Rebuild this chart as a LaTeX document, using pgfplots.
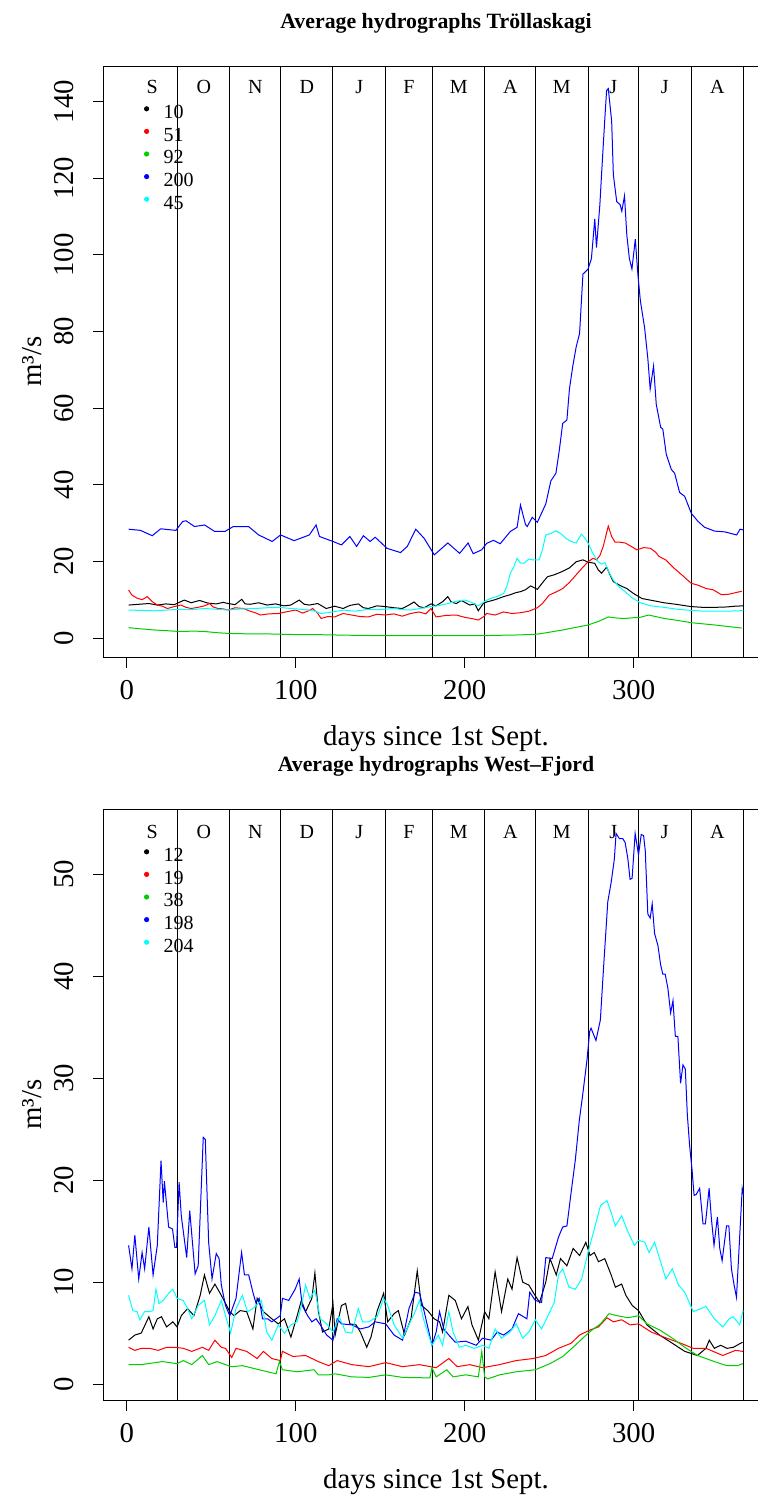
\documentclass[border=0pt]{standalone}
\usepackage{fontspec}
\setmainfont{Liberation Serif}
\usepackage{pgfplots}
\pgfplotsset{compat=1.18}
\definecolor{rgreen}{RGB}{0,205,0}
\definecolor{rcyan}{RGB}{0,255,255}
\definecolor{rblue}{RGB}{0,0,255}
\definecolor{rred}{RGB}{255,0,0}
\newcommand{\tickfont}{\fontsize{14.4}{16}\selectfont}
\newcommand{\smallfont}{\fontsize{10}{11.4}\selectfont}
\pgfplotsset{
  hydro/.style={
    scale only axis, width=332pt, height=295.5pt,
    anchor=north west,
    xmin=-13.56, xmax=379.56,
    xtick={0,100,200,300},
    xtick pos=left, ytick pos=left,
    tick align=outside, major tick length=5.5pt,
    tick style={black, line width=0.5pt},
    axis line style={black, line width=0.5pt},
    /pgf/number format/assume math mode=true,
    ticklabel style={font=\tickfont, inner sep=0pt},
    xticklabel style={anchor=north},
    xticklabel shift=6pt,
    yticklabel style={rotate=90, anchor=south},
    yticklabel shift=9.5pt,
    extra x ticks={30,61,91,122,153,181,212,242,273,303,334,365},
    extra x tick labels={},
    extra x tick style={grid=major, major grid style={black, line width=0.5pt}, major tick length=0pt},
    xlabel={days since 1st Sept.},
    ylabel={m³/s},
    every axis x label/.style={at={(axis description cs:0.5,0)}, anchor=base, yshift=-44pt, font=\tickfont},
    every axis y label/.style={at={(axis description cs:0,0.5)}, xshift=-31pt, rotate=90, anchor=base, font=\tickfont},
    every axis title/.style={at={(axis description cs:0.5,1)}, anchor=base, yshift=19pt, font=\bfseries\fontsize{10.9}{12}\selectfont},
    legend style={at={(axis description cs:0,1)}, anchor=north west, xshift=19.3pt, yshift=-18.4pt,
      draw=none, fill=none, inner sep=0pt, outer sep=0pt, column sep=6.5pt, row sep=0pt,
      font=\smallfont, cells={anchor=west},
      nodes={inner sep=0pt, text height=6.4pt, text depth=3.4pt}},
    legend image code/.code={\path[draw=none,fill=none] (-2pt,-3.4pt) rectangle (2pt,6.4pt); \fill[draw=none] (0pt,3.4pt) circle (1.3pt);},
    every axis plot/.append style={line width=0.5pt, no markers},
  }
}
\newcommand{\months}[1]{%
  \node[font=\smallfont, anchor=base, inner sep=0pt] at (axis cs:15,#1) {S};
  \node[font=\smallfont, anchor=base, inner sep=0pt] at (axis cs:45.5,#1) {O};
  \node[font=\smallfont, anchor=base, inner sep=0pt] at (axis cs:76,#1) {N};
  \node[font=\smallfont, anchor=base, inner sep=0pt] at (axis cs:106.5,#1) {D};
  \node[font=\smallfont, anchor=base, inner sep=0pt] at (axis cs:137.5,#1) {J};
  \node[font=\smallfont, anchor=base, inner sep=0pt] at (axis cs:167,#1) {F};
  \node[font=\smallfont, anchor=base, inner sep=0pt] at (axis cs:196.5,#1) {M};
  \node[font=\smallfont, anchor=base, inner sep=0pt] at (axis cs:227,#1) {A};
  \node[font=\smallfont, anchor=base, inner sep=0pt] at (axis cs:257.5,#1) {M};
  \node[font=\smallfont, anchor=base, inner sep=0pt] at (axis cs:288,#1) {J};
  \node[font=\smallfont, anchor=base, inner sep=0pt] at (axis cs:318.5,#1) {J};
  \node[font=\smallfont, anchor=base, inner sep=0pt] at (axis cs:349.5,#1) {A};
}
\begin{document}
\begin{tikzpicture}
\useasboundingbox (0pt,0pt) rectangle (379pt,-749.5pt);
% ---------------- Top panel ----------------
\begin{axis}[hydro, at={(52pt,-33pt)},
  ymin=-4.96, ymax=149.3, ytick={0,20,...,140},
  title={Average hydrographs Tröllaskagi},
  legend entries={10,51,92,200,45}]
\addplot[black] coordinates {(1,8.6)(7,8.8)(13,9.0)(18,8.6)(23,8.9)(28,8.7)(34,9.9)(38,9.2)(43,9.8)(48,9.1)(53,8.9)(57,9.3)(60,9.0)(64,8.7)(68,10.1)(70,8.9)(73,8.8)(78,9.2)(83,8.6)(88,8.9)(93,8.4)(97,8.6)(102,9.9)(105,8.8)(108,8.6)(113,9.0)(118,7.7)(123,8.3)(128,7.7)(132,8.5)(137,8.9)(140,7.9)(143,7.7)(148,8.4)(153,8.2)(158,7.9)(163,7.7)(167,8.6)(170,9.4)(173,8.2)(176,7.9)(180,8.9)(183,8.4)(187,9.5)(190,10.8)(192,9.4)(195,9.0)(198,9.8)(203,8.6)(206,8.9)(208,7.1)(211,9.0)(213,9.4)(218,10.0)(223,10.8)(227,11.3)(230,11.8)(233,12.1)(236,12.6)(239,13.6)(243,12.7)(246,14.4)(249,16.0)(253,16.5)(258,17.4)(262,18.3)(266,19.9)(270,20.4)(273,19.8)(277,19.5)(279,17.8)(281,16.9)(284,18.5)(286,16.5)(288,14.7)(292,13.7)(296,12.9)(300,11.6)(305,10.3)(311,9.8)(318,9.2)(325,8.8)(334,8.2)(341,8.0)(348,8.0)(355,8.1)(360,8.3)(365,8.4)};
\addplot[rred] coordinates {(1,12.5)(3,11.2)(6,10.4)(9,10.0)(12,10.8)(15,9.5)(18,8.6)(21,8.3)(24,7.7)(28,8.2)(32,8.6)(35,8.0)(38,7.7)(42,8.0)(46,8.4)(49,9.0)(51,8.1)(54,7.7)(57,7.6)(60,7.3)(64,7.9)(69,7.7)(73,7.0)(76,6.6)(79,6.0)(84,6.3)(90,6.4)(95,6.9)(100,7.3)(104,6.5)(107,7.0)(110,7.7)(113,6.4)(115,5.1)(119,5.6)(123,5.5)(128,6.4)(133,6.0)(138,5.6)(143,5.5)(148,6.2)(153,6.0)(158,6.3)(163,5.7)(168,6.4)(173,6.8)(177,6.3)(180,7.7)(183,5.5)(189,5.9)(195,6.0)(200,5.4)(205,5.0)(208,4.7)(211,5.5)(213,6.4)(218,6.0)(223,6.8)(228,6.4)(233,6.6)(238,7.0)(243,7.9)(246,9.0)(250,11.2)(254,12.0)(258,12.9)(262,14.5)(265,16.0)(269,18.0)(273,19.9)(276,20.8)(278,20.4)(280,21.5)(282,23.9)(285,29.2)(287,26.5)(289,25.0)(292,25.0)(295,24.8)(299,23.8)(302,23.0)(306,23.6)(310,23.4)(313,22.4)(315,21.3)(319,20.4)(324,18.2)(329,16.3)(334,14.3)(338,13.8)(343,12.9)(347,12.6)(352,11.3)(356,11.4)(360,11.8)(364,12.2)};
\addplot[rgreen] coordinates {(1,2.7)(8,2.4)(16,2.1)(24,1.9)(31,1.7)(40,1.8)(46,1.7)(53,1.4)(60,1.2)(70,1.1)(80,1.1)(90,1.0)(100,0.9)(110,0.9)(122,0.8)(135,0.7)(153,0.6)(168,0.6)(183,0.6)(195,0.6)(208,0.6)(220,0.7)(232,0.8)(243,1.0)(250,1.5)(258,2.1)(266,2.8)(273,3.4)(279,4.3)(285,5.5)(290,5.2)(295,5.1)(300,5.3)(303,5.3)(309,6.0)(313,5.6)(318,5.1)(326,4.6)(334,4.0)(341,3.7)(348,3.4)(356,3.0)(364,2.6)};
\addplot[rblue] coordinates {(1,28.4)(8,28.1)(15,26.7)(20,28.5)(29,28.1)(33,30.4)(35,30.6)(40,29.1)(46,29.5)(52,27.8)(58,27.8)(63,29.1)(72,29.1)(78,26.9)(86,25.2)(91,26.9)(99,25.4)(108,26.9)(112,29.5)(114,26.5)(122,25.2)(127,24.3)(132,26.5)(136,23.9)(140,26.7)(144,25.2)(147,26.3)(154,23.4)(162,22.3)(166,23.9)(171,28.4)(176,26.0)(182,21.7)(190,24.8)(197,22.1)(202,24.8)(205,22.0)(210,23.0)(213,24.7)(217,25.5)(221,24.6)(227,27.8)(231,28.9)(233,34.7)(236,29.6)(237,29.1)(240,31.5)(243,30.2)(248,35.0)(251,41.0)(254,43.0)(256,49.0)(258,56.0)(260.5,56.9)(262,65.0)(264,71.0)(266,76.0)(268,79.5)(270,95.0)(271,95.4)(273,96.3)(275,99.0)(277,109.4)(278,101.9)(280,113)(281,120.9)(283,135.9)(284,142.9)(285,143.4)(287,134.9)(288,120.9)(290,113.9)(292,113.1)(293,111.4)(294.6,115.4)(296,105)(297.5,99.0)(299,96.3)(301,104.1)(302.5,95.0)(304,88.0)(306.5,81.0)(308.4,73.0)(309.8,65.0)(311.8,71.0)(313.4,61.0)(316,55.0)(317.3,54.5)(319.3,48.0)(322.3,44.0)(324.3,43.0)(327.2,38.0)(330.2,37.0)(334.2,32.5)(338,30.5)(342,28.9)(348,27.9)(354,27.7)(361,26.9)(363,28.4)(365,28.2)};
\addplot[rcyan] coordinates {(1,7.3)(8,7.2)(16,7.1)(24,7.3)(31,7.5)(38,7.4)(46,7.7)(53,7.5)(60,7.3)(68,7.6)(76,7.7)(83,7.9)(90,8.0)(97,7.7)(103,7.5)(110,7.2)(115,6.4)(122,6.8)(128,7.3)(135,7.0)(143,7.5)(150,7.4)(158,7.7)(163,7.4)(168,7.3)(175,7.8)(180,8.2)(185,8.5)(190,9.0)(195,9.6)(200,9.9)(204,9.3)(208,8.4)(212,9.6)(215,10.3)(219,10.8)(223,11.6)(225,13.5)(227,16.9)(229,18.5)(231,20.8)(233,19.6)(235,19.5)(238,20.6)(240,20.4)(244,20.4)(246,23.0)(248,26.9)(251,27.3)(254,28.0)(257,27.2)(260,26.0)(263,25.2)(266,24.8)(269,27.1)(271,26.2)(273,24.8)(276,22.0)(279,19.9)(281,19.3)(283,19.7)(285,17.5)(288,15.1)(291,13.5)(295,12.1)(299,10.5)(304,9.2)(310,8.4)(318,8.0)(326,7.5)(334,7.2)(342,7.0)(348,7.0)(356,7.0)(362,7.1)(365,7.2)};
\months{142.0}
\end{axis}
% ---------------- Bottom panel ----------------
\begin{axis}[hydro, at={(52pt,-404.5pt)},
  ymin=-1.57, ymax=56.4, ytick={0,10,...,50},
  title={Average hydrographs West--Fjord},
  legend entries={12,19,38,198,204}]
\addplot[black] coordinates {(1,4.3)(4.7,4.8)(8.5,5.0)(13,6.6)(15.5,5.4)(18,6.4)(20.5,6.6)(23.5,5.6)(27.2,6.1)(29.7,5.6)(32.2,6.7)(35.9,7.4)(39.7,6.7)(43.4,8.7)(45.9,10.7)(48.9,8.9)(52.1,9.8)(55.9,8.7)(58.4,7.9)(60.9,7.1)(63.4,6.7)(67.1,7.2)(70.9,7.1)(74.6,5.4)(77.1,8.4)(80.8,7.1)(85.8,6.4)(89.6,5.9)(93.3,6.4)(97.1,4.6)(100.8,6.7)(103.3,8.2)(105.8,7.1)(109.5,8.4)(111.3,10.9)(113.3,7.2)(115.8,5.1)(119.5,5.4)(122,7.9)(123.3,4.8)(127,7.7)(129.5,7.9)(132,5.9)(135.7,5.8)(138.2,5.1)(142,3.6)(144.5,4.6)(148.2,7.2)(152,8.9)(154.4,6.1)(158.2,6.9)(160.7,7.2)(164.4,4.8)(168.2,6.4)(171.9,11.1)(174.4,7.7)(178.1,7.2)(181.9,6.4)(185.1,6.1)(186.9,5.1)(190.6,8.7)(194.4,8.2)(198.1,6.4)(201.9,7.6)(204.3,5.8)(208.1,4.3)(211.8,7.1)(214.3,6.4)(218,11.0)(221.8,7.1)(225.5,10.3)(228,9.3)(231,12.4)(234.3,10.0)(238,9.7)(240.5,9.0)(244.3,8.0)(248,10.0)(250.5,12.3)(254.2,10.7)(256.7,12.3)(260.5,11.6)(264.2,13.3)(268,12.6)(271.7,13.9)(274.2,12.6)(276.7,12.9)(279.2,12.0)(282.9,12.3)(286.7,10.7)(289.2,9.5)(292.9,9.8)(295.4,8.7)(299.2,7.7)(302.9,7.2)(307.9,5.8)(315.4,4.8)(322.9,4.0)(330.3,3.2)(337.8,2.8)(342.8,3.5)(344.8,4.3)(347.8,3.5)(351.5,3.8)(355.3,3.5)(359,3.6)(364.5,4.1)};
\addplot[rred] coordinates {(1,3.6)(4.7,3.3)(8.5,3.5)(13.5,3.5)(18.5,3.3)(23.5,3.6)(28.4,3.6)(33.4,3.5)(38.4,3.2)(44.7,3.6)(48.4,3.3)(52.1,4.3)(55.9,3.6)(58.4,3.5)(62.1,2.6)(64.6,3.5)(70.9,3.2)(77.1,2.5)(80.8,3.2)(85.8,2.5)(90.8,2.3)(92.1,3.2)(98.3,2.7)(105.8,2.8)(113.3,2.2)(119.5,1.8)(124.5,2.3)(133.2,1.9)(143.2,1.7)(153.2,2.1)(163.2,1.7)(173.2,1.9)(183.1,1.6)(190.6,2.5)(195.6,1.7)(203,1.9)(210.6,1.6)(220.6,1.9)(230.5,2.3)(240.5,2.5)(248,2.8)(255.5,3.5)(263,4.0)(268,4.8)(274.2,5.3)(279.2,5.6)(284.2,6.5)(288,6.1)(292.9,6.3)(297.9,5.8)(302.9,5.9)(310.4,5.1)(317.9,4.6)(327.9,4.0)(335.3,3.5)(342.8,3.5)(352.8,2.8)(360.3,3.3)(364.8,3.2)};
\addplot[rgreen] coordinates {(1,1.9)(8.5,1.9)(21,2.2)(29.7,2.0)(33.4,2.3)(38.4,1.9)(44.7,2.8)(48.4,1.9)(53.4,2.2)(58.4,1.9)(62.1,1.7)(68.4,1.8)(75.8,1.5)(83.3,1.2)(88.3,1.0)(90.3,2.2)(92.1,1.4)(100.8,1.2)(110.8,1.4)(113.3,0.9)(119.5,0.9)(123.3,1.0)(133.2,0.7)(143.2,0.65)(153.2,0.9)(163.2,0.65)(179.4,0.6)(180.6,1.6)(183.1,0.7)(189.4,1.4)(193.1,0.7)(200.6,0.9)(208.1,0.7)(210.1,3.2)(211.8,0.7)(213.6,0.5)(220.6,0.9)(230.5,1.2)(241.8,1.4)(250.5,2.0)(258,2.7)(265.5,3.8)(270.5,4.6)(275.4,5.3)(280.4,5.9)(285.4,6.9)(290.4,6.7)(296.7,6.5)(302.9,6.7)(307.9,5.9)(315.4,5.3)(322.9,4.5)(330.3,3.6)(337.8,2.8)(347.8,2.2)(355.3,1.8)(361.5,1.8)(364.8,2.0)};
\addplot[rblue] coordinates {(1,13.6)(3,11.3)(4.7,14.6)(7,10.3)(9,12.9)(10.5,11.3)(13,15.4)(15.5,10.7)(18,13.6)(20.2,21.9)(21.5,17.8)(22.2,19.9)(24.7,15.4)(27,15.2)(28.4,13.4)(29.4,13.4)(30.9,19.8)(32.2,16.5)(35.4,12.4)(37.2,17.0)(40.4,10.8)(42.2,11.6)(45.2,24.2)(46.4,24.0)(48.4,13.9)(50.4,10.3)(52.9,12.8)(54.6,12.3)(55.9,9.7)(58.4,7.7)(60.9,6.7)(64.6,8.4)(67.9,12.9)(69.6,10.7)(72.1,10.7)(74.6,9.0)(76.3,8.0)(78.3,8.4)(80.3,6.4)(83.3,6.4)(85.8,6.1)(90.8,6.7)(92.1,8.4)(95.8,8.2)(99.6,9.3)(102,10.3)(103.8,7.7)(107,6.7)(109.5,6.1)(112,6.4)(114.5,5.8)(118.3,4.8)(122,4.3)(124.5,6.4)(127,5.9)(133.2,5.8)(138.2,5.4)(143.2,5.6)(147,6.1)(153.2,5.9)(158.2,4.8)(163.2,4.3)(167,7.4)(170.7,9.0)(173.2,8.9)(175.6,7.4)(180.6,3.8)(183.1,5.1)(185.1,7.1)(187.6,5.4)(190.6,4.8)(194.4,4.1)(200.6,4.2)(206.8,3.8)(210.6,4.5)(215.6,4.3)(219.3,5.1)(223,4.8)(228,5.4)(231.8,6.9)(236.8,6.4)(238.5,9.0)(241.8,8.2)(245.5,8.0)(248,12.4)(251.8,12.3)(255.5,14.4)(258,15.4)(260.5,15.5)(263,18.8)(265.5,22.0)(267.8,25.8)(269.8,28.3)(272.4,31.8)(274,34.6)(274.8,34.9)(277.7,33.7)(280.3,35.7)(282.3,41.1)(284.7,47.3)(286.7,49.2)(288.6,51.5)(289.6,54.0)(291.6,53.5)(293.6,53.5)(295,53.1)(296.6,51.5)(297.9,49.5)(299.1,49.6)(300.9,54.0)(302.9,51.9)(304.5,53.9)(305.9,53.8)(306.9,52.3)(308.4,46.1)(309.8,45.7)(311,47.1)(312.4,44.2)(314.4,43.0)(316,41.1)(317.3,40.2)(318.7,40.2)(320.3,38.8)(321.9,36.4)(323.3,37.6)(324.7,34.1)(326.2,34.1)(327.8,29.5)(329.2,31.3)(330.6,30.9)(331.8,26.4)(333.2,23.3)(334.6,21.0)(335.8,18.5)(337.1,18.6)(339.1,19.2)(341.1,15.7)(342.5,15.7)(344.7,19.2)(346,16.3)(347.6,13.6)(349.6,16.4)(351,13.3)(352.4,12.1)(355,15.5)(356.4,15.5)(357.9,11.3)(359.5,9.7)(360.9,8.5)(362.9,14.8)(364.3,19.2)(365,18.6)};
\addplot[rcyan] coordinates {(1,8.7)(3.5,7.2)(6,7.1)(7.7,6.3)(10.5,7.1)(13.5,7.1)(15.5,7.2)(17.2,9.3)(19,7.9)(21.5,8.2)(24.7,8.9)(27.2,9.3)(29.7,8.4)(33.4,8.2)(35.9,7.4)(38.4,6.4)(42.2,7.7)(45.9,8.2)(48.9,5.8)(52.1,6.7)(55.9,8.2)(58.4,6.7)(61.4,5.0)(64.6,7.4)(68.4,8.7)(71.4,7.1)(74.6,7.4)(79.6,8.2)(82.8,5.1)(85.8,4.3)(89.6,5.8)(93.3,5.0)(97.1,5.8)(100.8,6.1)(103.3,7.7)(105.8,9.7)(108.3,8.4)(111.3,9.2)(114.5,6.4)(118.3,5.9)(122,5.1)(125.7,6.6)(129.5,5.1)(133.2,5.0)(137,7.4)(139.5,6.1)(143.2,6.1)(148.2,6.6)(152,8.4)(154.4,7.7)(158.2,5.8)(163.2,4.5)(166.9,5.8)(170.7,7.1)(173.2,8.2)(175.7,6.3)(180.6,3.8)(184.4,4.8)(186.9,3.8)(190.6,7.1)(193.1,5.1)(196.8,3.6)(200.6,3.8)(205.6,3.5)(210.6,3.8)(214.3,3.5)(218,5.4)(221.8,4.5)(226.8,5.1)(230.5,5.9)(234.3,4.5)(238,5.1)(241.8,6.3)(245.5,5.4)(249.3,6.7)(253,8.0)(255.5,10.7)(258,11.3)(261.7,9.5)(265.5,9.3)(269.2,10.3)(273,12.9)(276.7,15.2)(280.4,17.5)(284.2,18.0)(286.7,16.8)(289.2,15.5)(292.9,16.5)(296.7,14.9)(300.4,13.6)(302.9,14.1)(306.6,13.9)(309.1,12.9)(312.4,13.9)(315.4,12.3)(319.1,10.3)(322.9,11.3)(326.6,9.7)(330.3,9.0)(335.3,7.1)(342.8,7.6)(347.8,6.4)(352.8,5.6)(356.6,6.4)(359,6.6)(362.8,5.8)(364.8,7.2)};
\months{53.5}
\end{axis}
\end{tikzpicture}
\end{document}
